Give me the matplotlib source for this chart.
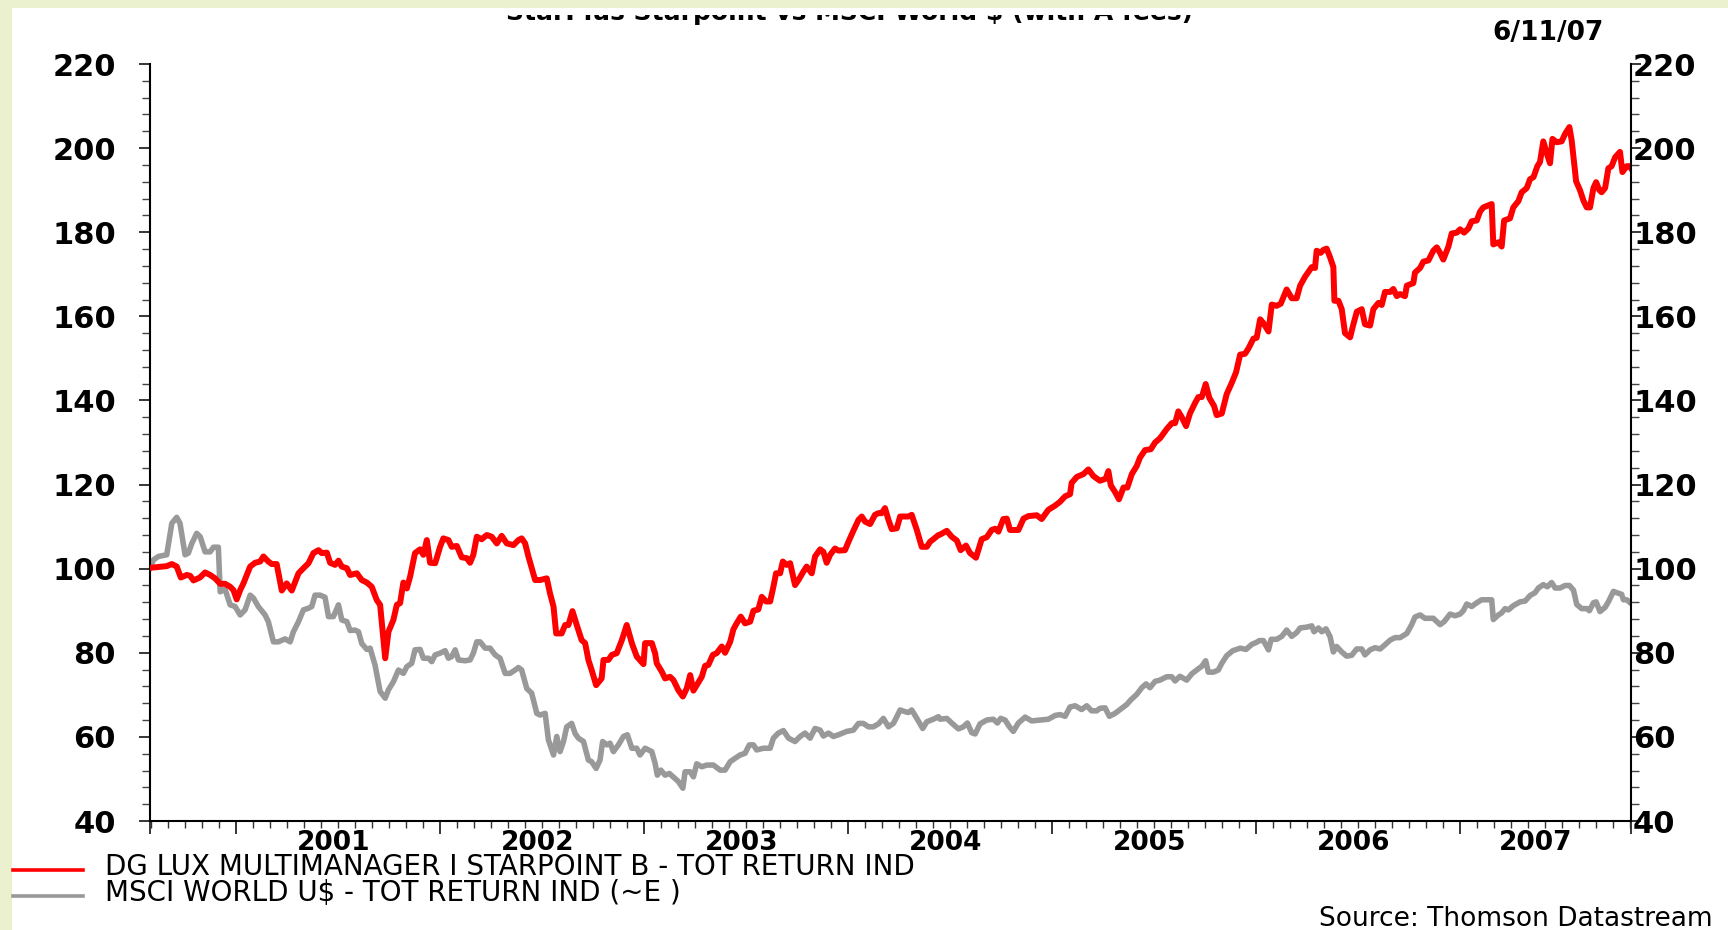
import matplotlib.pyplot as plt
from matplotlib.patches import Rectangle
from matplotlib.lines import Line2D
from matplotlib.ticker import MultipleLocator
from matplotlib.transforms import Bbox, TransformedBbox
import matplotlib.transforms as mtransforms

# time in decimal years, values are total return index (start = 100)
fund_t = [2000.578, 2000.660, 2000.685, 2000.709, 2000.729, 2000.758, 2000.775, 2000.791, 2000.823, 2000.848,
          2000.873, 2000.897, 2000.922, 2000.946, 2000.971, 2000.987, 2001.003, 2001.020, 2001.036, 2001.069,
          2001.093, 2001.118, 2001.134, 2001.158, 2001.175, 2001.199, 2001.224, 2001.248, 2001.273, 2001.306,
          2001.330, 2001.355, 2001.379, 2001.404, 2001.420, 2001.445, 2001.461, 2001.485, 2001.502, 2001.518,
          2001.543, 2001.559, 2001.592, 2001.616, 2001.641, 2001.665, 2001.690, 2001.706, 2001.731, 2001.747,
          2001.771, 2001.788, 2001.804, 2001.820, 2001.837, 2001.853, 2001.877, 2001.902, 2001.918, 2001.935,
          2001.951, 2001.976, 2002.000, 2002.016, 2002.041, 2002.057, 2002.082, 2002.106, 2002.131, 2002.147,
          2002.163, 2002.180, 2002.204, 2002.229, 2002.253, 2002.278, 2002.302, 2002.327, 2002.360, 2002.384,
          2002.400, 2002.417, 2002.433, 2002.466,
          2002.490, 2002.523, 2002.539, 2002.556, 2002.569, 2002.596, 2002.613, 2002.629, 2002.649, 2002.670,
          2002.694, 2002.711, 2002.727, 2002.743, 2002.765, 2002.792, 2002.801, 2002.825, 2002.842, 2002.866,
          2002.891, 2002.915, 2002.940, 2002.964, 2002.997, 2003.005, 2003.038, 2003.054, 2003.062, 2003.087,
          2003.103, 2003.127, 2003.144, 2003.168, 2003.190, 2003.209, 2003.226, 2003.242, 2003.258, 2003.283,
          2003.299, 2003.315, 2003.337, 2003.356, 2003.381, 2003.397, 2003.422, 2003.438, 2003.454, 2003.474,
          2003.495, 2003.520, 2003.536, 2003.560, 2003.577, 2003.598, 2003.618, 2003.634, 2003.647, 2003.667,
          2003.680, 2003.699, 2003.716, 2003.740, 2003.757, 2003.781, 2003.797, 2003.822, 2003.838, 2003.863,
          2003.879, 2003.895, 2003.912, 2003.936, 2003.953, 2003.985, 2004.002, 2004.026, 2004.051, 2004.067,
          2004.083, 2004.108, 2004.132, 2004.149, 2004.165, 2004.181, 2004.198, 2004.214, 2004.239, 2004.255,
          2004.279, 2004.296, 2004.312, 2004.337, 2004.361, 2004.386, 2004.402, 2004.418, 2004.443,
          2004.451, 2004.484, 2004.508, 2004.533, 2004.552, 2004.578, 2004.598, 2004.627, 2004.655, 2004.680,
          2004.704, 2004.721, 2004.737, 2004.761, 2004.778, 2004.794, 2004.835, 2004.860, 2004.884, 2004.925,
          2004.949, 2004.982, 2005.015, 2005.039, 2005.064, 2005.088, 2005.096, 2005.121, 2005.154, 2005.178,
          2005.203, 2005.235, 2005.263, 2005.276, 2005.288, 2005.309, 2005.328, 2005.350, 2005.369, 2005.391,
          2005.415, 2005.431, 2005.456, 2005.484, 2005.505, 2005.529, 2005.562, 2005.587, 2005.603, 2005.619,
          2005.636, 2005.657, 2005.676, 2005.701, 2005.717, 2005.734, 2005.753, 2005.771, 2005.794, 2005.807,
          2005.832, 2005.856, 2005.881, 2005.902, 2005.922, 2005.946, 2005.963, 2005.987, 2006.003, 2006.020,
          2006.036, 2006.061, 2006.077, 2006.101, 2006.121, 2006.150, 2006.175, 2006.199,
          2006.216, 2006.240, 2006.273, 2006.289, 2006.297, 2006.317, 2006.330, 2006.346, 2006.363, 2006.379,
          2006.384, 2006.404, 2006.420, 2006.436, 2006.461, 2006.477, 2006.494, 2006.518, 2006.534, 2006.559,
          2006.575, 2006.600, 2006.616, 2006.632, 2006.657, 2006.673, 2006.690, 2006.706, 2006.730, 2006.739,
          2006.771, 2006.779, 2006.804, 2006.820, 2006.845, 2006.869, 2006.886, 2006.902, 2006.918, 2006.943,
          2006.959, 2006.984, 2007.000, 2007.020, 2007.041, 2007.057, 2007.082, 2007.098, 2007.114, 2007.155,
          2007.163, 2007.188, 2007.204, 2007.216, 2007.245, 2007.261, 2007.286, 2007.302, 2007.327, 2007.343,
          2007.360, 2007.379, 2007.392, 2007.408, 2007.428, 2007.441, 2007.453, 2007.474, 2007.498, 2007.515,
          2007.536, 2007.547, 2007.569, 2007.588, 2007.605, 2007.621, 2007.637, 2007.654, 2007.667, 2007.683,
          2007.694, 2007.711, 2007.727, 2007.743, 2007.760, 2007.784, 2007.796, 2007.817, 2007.833, 2007.846]
fund_v = [100.2, 100.6, 101.1, 100.5, 97.9, 98.5, 98.3, 97.2, 97.9, 99.1,
          98.5, 97.7, 96.4, 96.4, 95.7, 94.9, 92.7, 94.9, 96.5, 100.5,
          101.4, 101.7, 102.9, 101.7, 101.1, 101.1, 94.8, 96.5, 94.8, 98.9,
          100.1, 101.3, 103.7, 104.4, 103.7, 103.8, 101.4, 100.9, 101.9, 100.5,
          100.1, 98.5, 98.9, 97.3, 96.7, 95.7, 92.5, 91.4, 78.7, 85.0,
          87.8, 91.4, 91.8, 96.7, 95.3, 98.1, 103.7, 104.6, 103.3, 106.8,
          101.4, 101.3, 105.2, 107.2, 106.8, 105.2, 105.4, 102.7, 102.5, 101.4,
          103.3, 107.6, 107.0, 108.0, 107.6, 106.0, 107.8, 106.0, 105.6, 106.8,
          107.2, 106.0, 102.9, 97.3,
          97.3, 97.7, 94.1, 91.0, 84.6, 84.6, 86.6, 86.6, 89.9, 86.6,
          83.0, 82.3, 78.3, 75.9, 72.3, 73.9, 78.3, 78.3, 79.5, 79.9,
          83.0, 86.6, 82.3, 79.1, 77.3, 82.3, 82.3, 79.9, 77.5, 75.5,
          73.9, 74.3, 73.5, 71.1, 69.6, 71.5, 74.7, 71.0, 72.3, 74.3,
          76.9, 77.1, 79.5, 79.9, 81.5, 80.0, 82.6, 85.6, 87.0, 88.6,
          87.0, 87.4, 90.0, 90.3, 93.3, 92.2, 92.2, 95.7, 98.9, 98.9,
          101.7, 100.9, 101.3, 96.1, 97.3, 99.3, 100.5, 98.9, 102.9, 104.6,
          104.0, 101.4, 103.3, 104.8, 104.3, 104.4, 106.4, 109.0, 111.6, 112.4,
          111.2, 110.6, 112.8, 113.2, 113.2, 114.4, 111.6, 109.4, 109.6, 112.4,
          112.4, 112.4, 112.8, 109.2, 105.2, 105.2, 106.4, 107.0, 108.0,
          108.1, 109.0, 107.6, 106.7, 104.4, 105.5, 103.7, 102.6, 107.0, 107.5,
          109.2, 109.5, 108.8, 111.8, 111.9, 109.2, 109.2, 111.9, 112.5, 112.7,
          111.8, 114.0, 115.0, 115.9, 117.2, 117.7, 120.4, 121.8, 122.5, 123.6,
          122.0, 120.9, 121.4, 123.2, 119.8, 118.2, 116.5, 119.3, 119.3, 122.5,
          124.4, 126.4, 128.2, 128.4, 130.0, 131.0, 133.2, 134.6, 134.6, 137.4,
          136.0, 133.9, 136.9, 139.4, 140.8, 140.8, 143.9, 140.6, 138.7, 136.5,
          136.9, 141.5, 144.2, 146.7, 150.9, 151.1, 152.4, 154.7, 154.9, 159.3,
          158.4, 156.4, 162.8, 162.5, 163.0, 166.4, 164.3, 164.3,
          167.3, 169.4, 171.7, 171.5, 175.6, 175.1, 175.8, 176.1, 174.0, 171.7,
          163.7, 163.7, 161.7, 156.0, 155.0, 158.1, 161.1, 161.7, 158.1, 157.8,
          161.7, 163.2, 162.7, 165.8, 165.8, 166.5, 164.8, 165.3, 164.8, 167.3,
          167.9, 170.4, 171.5, 173.0, 173.3, 175.6, 176.4, 175.1, 173.5, 176.6,
          179.7, 179.9, 180.7, 179.9, 180.9, 182.6, 182.8, 184.9, 185.9, 186.7,
          177.1, 177.6, 176.6, 182.8, 183.3, 185.9, 187.4, 189.5, 190.5, 192.6,
          193.1, 195.7, 196.7, 201.6, 198.3, 196.4, 202.2, 201.4, 201.6, 203.4,
          205.0, 201.9, 192.1, 190.0, 187.5, 185.9, 185.9, 190.5, 191.9, 190.0,
          189.5, 190.5, 195.2, 195.7, 197.8, 199.1, 194.3, 195.7, 195.7, 194.6]

msci_t = [2000.578, 2000.595, 2000.619, 2000.660, 2000.685, 2000.709, 2000.725, 2000.750, 2000.766, 2000.783,
          2000.807, 2000.824, 2000.848, 2000.873, 2000.889, 2000.913, 2000.922, 2000.946, 2000.971, 2000.995,
          2001.020, 2001.044, 2001.069, 2001.085, 2001.109, 2001.142, 2001.158, 2001.183, 2001.207, 2001.240,
          2001.265, 2001.281, 2001.306, 2001.330, 2001.355, 2001.371, 2001.387, 2001.412, 2001.436, 2001.453,
          2001.477, 2001.502, 2001.518, 2001.543, 2001.559, 2001.583, 2001.600, 2001.616, 2001.641, 2001.657,
          2001.681, 2001.706, 2001.731, 2001.747, 2001.771, 2001.796, 2001.820, 2001.837, 2001.861, 2001.877,
          2001.902, 2001.918, 2001.943, 2001.959, 2001.976, 2002.000, 2002.025, 2002.041, 2002.057, 2002.074,
          2002.090, 2002.123, 2002.147, 2002.163, 2002.180, 2002.196, 2002.221, 2002.245, 2002.270, 2002.294,
          2002.319, 2002.343, 2002.368, 2002.384, 2002.400, 2002.425, 2002.449, 2002.474,
          2002.490, 2002.515, 2002.531, 2002.556, 2002.572, 2002.588, 2002.605, 2002.621, 2002.645, 2002.662,
          2002.678, 2002.703, 2002.727, 2002.743, 2002.765, 2002.784, 2002.797, 2002.817, 2002.833, 2002.850,
          2002.874, 2002.899, 2002.918, 2002.940, 2002.964, 2002.980, 2003.005, 2003.038, 2003.054, 2003.065,
          2003.082, 2003.103, 2003.124, 2003.152, 2003.168, 2003.190, 2003.201, 2003.226, 2003.242, 2003.258,
          2003.283, 2003.307, 2003.340, 2003.373, 2003.397, 2003.422, 2003.446, 2003.471, 2003.495, 2003.516,
          2003.536, 2003.552, 2003.585, 2003.618, 2003.634, 2003.658, 2003.683, 2003.708, 2003.740, 2003.765,
          2003.789, 2003.814, 2003.838, 2003.863, 2003.879, 2003.904, 2003.928, 2003.953, 2003.993, 2004.026,
          2004.051, 2004.075, 2004.100, 2004.124, 2004.149, 2004.173, 2004.198, 2004.222, 2004.239, 2004.255,
          2004.279, 2004.296, 2004.312, 2004.337, 2004.366, 2004.386, 2004.418, 2004.443,
          2004.451, 2004.484, 2004.508, 2004.541, 2004.565, 2004.585, 2004.606, 2004.623, 2004.647, 2004.680,
          2004.712, 2004.732, 2004.748, 2004.770, 2004.791, 2004.810, 2004.835, 2004.868, 2004.900, 2004.941,
          2004.982, 2005.015, 2005.039, 2005.064, 2005.088, 2005.113, 2005.145, 2005.170, 2005.194, 2005.219,
          2005.235, 2005.260, 2005.281, 2005.309, 2005.342, 2005.366, 2005.386, 2005.415, 2005.440, 2005.461,
          2005.480, 2005.505, 2005.529, 2005.562, 2005.587, 2005.603, 2005.627, 2005.660, 2005.685, 2005.709,
          2005.734, 2005.753, 2005.766, 2005.791, 2005.815, 2005.832, 2005.856, 2005.886, 2005.905, 2005.922,
          2005.951, 2005.979, 2006.003, 2006.016, 2006.036, 2006.061, 2006.074, 2006.101, 2006.126, 2006.150,
          2006.175, 2006.199,
          2006.216, 2006.249, 2006.273, 2006.284, 2006.306, 2006.322, 2006.343, 2006.363, 2006.379, 2006.395,
          2006.420, 2006.444, 2006.469, 2006.493, 2006.518, 2006.534, 2006.559, 2006.583, 2006.608, 2006.632,
          2006.657, 2006.681, 2006.706, 2006.739, 2006.763, 2006.779, 2006.804, 2006.828, 2006.869, 2006.886,
          2006.902, 2006.922, 2006.951, 2006.976, 2007.000, 2007.016, 2007.033, 2007.057, 2007.082, 2007.106,
          2007.155, 2007.163, 2007.188, 2007.204, 2007.221, 2007.237, 2007.261, 2007.294, 2007.319, 2007.343,
          2007.368, 2007.384, 2007.408, 2007.428, 2007.449, 2007.466, 2007.490, 2007.515, 2007.536, 2007.556,
          2007.572, 2007.596, 2007.621, 2007.634, 2007.654, 2007.667, 2007.686, 2007.711, 2007.727, 2007.752,
          2007.768, 2007.792, 2007.801, 2007.817, 2007.846]
msci_v = [100.2, 102.1, 102.9, 103.3, 110.8, 112.2, 110.8, 103.3, 103.7, 106.0,
          108.4, 107.6, 104.0, 104.0, 105.1, 105.1, 94.5, 95.1, 91.4, 91.0,
          89.0, 90.2, 93.7, 93.0, 91.0, 89.0, 87.4, 82.6, 82.6, 83.3,
          82.6, 85.0, 87.4, 90.2, 90.6, 91.0, 93.7, 93.7, 93.2, 88.6,
          88.6, 91.4, 87.8, 87.4, 85.3, 85.4, 85.0, 82.2, 80.8, 81.1,
          77.1, 70.8, 69.2, 71.2, 73.1, 75.9, 75.1, 76.7, 77.5, 80.7,
          80.8, 78.7, 78.7, 77.9, 79.5, 79.9, 80.5, 78.7, 79.1, 80.7,
          78.3, 78.1, 78.3, 79.9, 82.6, 82.6, 81.1, 81.1, 79.5, 78.7,
          75.1, 75.1, 75.9, 76.5, 75.9, 71.5, 70.4, 65.6,
          65.2, 65.6, 59.3, 55.7, 60.1, 56.5, 58.9, 62.4, 63.2, 60.8,
          59.7, 58.9, 54.5, 54.1, 52.5, 54.5, 58.9, 58.1, 58.5, 56.5,
          58.1, 60.1, 60.5, 57.3, 57.3, 55.7, 57.3, 56.5, 53.7, 50.9,
          52.1, 50.9, 51.3, 50.1, 49.4, 47.8, 51.7, 51.7, 50.5, 53.6,
          52.9, 53.3, 53.3, 52.1, 52.1, 54.1, 54.9, 55.7, 56.1, 58.1,
          58.1, 56.9, 57.3, 57.3, 59.7, 60.9, 61.5, 59.7, 58.9, 60.1,
          60.9, 59.7, 62.0, 61.6, 60.2, 60.9, 60.1, 60.5, 61.3, 61.6,
          63.2, 63.2, 62.4, 62.4, 63.1, 64.4, 62.4, 63.2, 64.8, 66.4,
          66.0, 65.8, 66.4, 64.4, 62.0, 63.6, 64.2, 64.8,
          64.2, 64.4, 63.3, 61.9, 62.4, 63.3, 61.0, 60.7, 63.1, 64.0,
          64.2, 63.3, 64.4, 64.0, 62.4, 61.3, 63.3, 64.7, 63.8, 64.0,
          64.2, 65.1, 65.3, 64.9, 67.1, 67.4, 66.5, 67.4, 66.2, 66.2,
          66.8, 66.9, 64.9, 65.6, 66.8, 67.7, 68.8, 70.1, 71.7, 72.6,
          71.7, 73.2, 73.5, 74.3, 74.3, 73.3, 74.4, 73.5, 75.0, 75.9,
          76.8, 78.1, 75.4, 75.4, 75.9, 77.5, 79.3, 80.5, 80.8, 81.1,
          80.8, 82.0, 82.5, 82.9, 82.9, 80.7, 83.2, 83.2, 83.9, 85.4,
          83.9, 84.8,
          85.9, 86.1, 86.4, 85.0, 85.9, 85.0, 85.7, 83.8, 80.2, 81.5,
          80.2, 79.2, 79.4, 80.9, 80.9, 79.5, 80.7, 81.2, 80.9, 81.9,
          83.0, 83.6, 83.6, 84.6, 86.7, 88.5, 89.0, 88.2, 88.2, 87.4,
          86.7, 87.4, 89.2, 88.8, 89.2, 90.0, 91.6, 91.0, 91.9, 92.6,
          92.6, 87.9, 89.0, 89.5, 90.5, 90.2, 91.2, 92.1, 92.3, 93.6,
          94.3, 95.4, 96.2, 95.7, 96.7, 95.4, 95.4, 96.0, 96.0, 94.9,
          91.5, 90.5, 90.5, 90.0, 91.9, 92.1, 89.8, 90.8, 92.1, 94.6,
          94.3, 93.9, 92.6, 92.6, 91.4]

x_start, x_end = 2000.578, 2007.838
years = [2001, 2002, 2003, 2004, 2005, 2006, 2007]
y_ticks = [40, 60, 80, 100, 120, 140, 160, 180, 200, 220]

fund_label = 'DG LUX MULTIMANAGER I STARPOINT B - TOT RETURN IND'
msci_label = 'MSCI WORLD U$ - TOT RETURN IND (~E )'
title = 'StarPlus Starpoint vs MSCI World $ (with A fees)'

W, H = 1728, 930
pale = '#EBF0CF'
fig = plt.figure(figsize=(W / 100, H / 100), dpi=100, facecolor=pale)
# white page area, pale strip on the left and top
fig.add_artist(Rectangle((12 / W, 0), 1, 1 - 8 / H, transform=fig.transFigure,
                         facecolor='white', edgecolor='none', zorder=-2))

# title, cut off at the top like in the original export (only the feet of the letters show)
ttl = fig.text(850 / W, 1 - 20 / H, title, ha='center', va='baseline', fontsize=18,
               fontweight='bold')
ttl.set_clip_box(TransformedBbox(Bbox([[0, 0], [1, 1 - 15 / H]]), fig.transFigure))
ttl.set_clip_on(True)

ax = fig.add_axes([150 / W, 1 - 821 / H, (1631 - 150) / W, (821 - 64) / H])
ax.plot(fund_t, fund_v, color='#FF0000', lw=4.3, solid_joinstyle='round', zorder=3)
ax.plot(msci_t, msci_v, color='#999999', lw=4.0, solid_joinstyle='round', zorder=2)
ax.set_xlim(x_start, x_end)
ax.set_ylim(40, 220)

for s in ['left', 'right', 'bottom']:
    ax.spines[s].set_linewidth(1.5)
ax.spines['top'].set_visible(False)
ax.spines['right'].set_visible(False)

# x axis: long ticks at year boundaries, short monthly ticks
ax.set_xticks([x_start] + years + [x_end])
ax.set_xticklabels([])
months = [y + m / 12 for y in range(2000, 2008) for m in range(12)]
ax.set_xticks([m for m in months if x_start < m < x_end], minor=True)
ax.tick_params(axis='x', which='major', direction='out', length=9.5, width=1.1)
ax.tick_params(axis='x', which='minor', direction='out', length=5, width=1.0, color='#333333')

trans = mtransforms.blended_transform_factory(ax.transData, ax.transAxes)
for i, y in enumerate(years):
    pos = y + 0.48 if i < len(years) - 1 else (y + x_end) / 2 - 0.05
    ax.text(pos, -0.029, str(y), transform=trans, ha='center', va='center',
            fontsize=19, fontweight='bold')

# left y axis
ax.set_yticks(y_ticks)
ax.yaxis.set_minor_locator(MultipleLocator(4))
ax.tick_params(axis='y', which='major', direction='out', length=8, width=1.1,
               labelsize=22, pad=16.5)
ax.tick_params(axis='y', which='minor', direction='out', length=5.5, width=1.0, color='#444444')
for t in ax.get_yticklabels():
    t.set_fontweight('bold')

# right y axis
ax2 = ax.twinx()
ax2.set_ylim(40, 220)
ax2.set_yticks(y_ticks)
ax2.yaxis.set_minor_locator(MultipleLocator(4))
for s in ['left', 'top', 'bottom']:
    ax2.spines[s].set_visible(False)
ax2.spines['right'].set_linewidth(1.5)
ax2.tick_params(axis='y', which='major', direction='out', length=7.5, width=1.1,
                labelsize=22, pad=-6)
ax2.tick_params(axis='y', which='minor', direction='out', length=5.5, width=1.0, color='#444444')
for t in ax2.get_yticklabels():
    t.set_fontweight('bold')

fig.text(1548 / W, 1 - 33 / H, '6/11/07', ha='center', va='center', fontsize=19, fontweight='bold')

# legend below the chart
fig.add_artist(Line2D([13 / W, 83 / W], [1 - 870 / H] * 2, color='#FF0000', lw=2.6))
fig.add_artist(Line2D([13 / W, 83 / W], [1 - 896 / H] * 2, color='#999999', lw=2.6))
fig.text(105 / W, 1 - 867 / H, fund_label, va='center', fontsize=20)
fig.text(105 / W, 1 - 893 / H, msci_label, va='center', fontsize=20)

fig.text(1713 / W, 1 - 919 / H, 'Source: Thomson Datastream', ha='right', va='center', fontsize=19)

fig.savefig('out.png', dpi=100, facecolor=fig.get_facecolor())
